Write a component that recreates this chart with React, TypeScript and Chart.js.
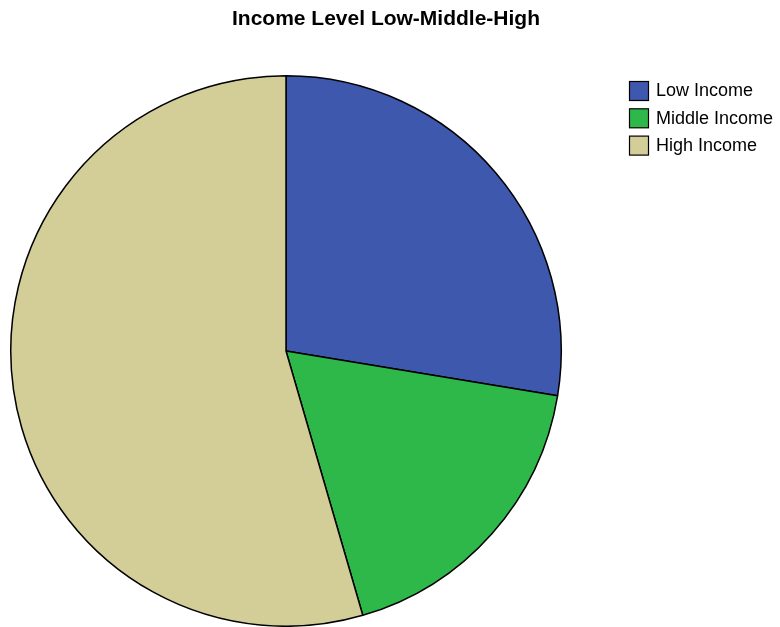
import React, { useEffect, useRef } from "react";
import { Chart, registerables } from "chart.js";

Chart.register(...registerables);

const categories = ["Low Income", "Middle Income", "High Income"];
const values = [27.6, 17.9, 54.5];
const colors = ["#3e58ad", "#2fb84a", "#d3cd98"];
const chartTitle = "Income Level Low-Middle-High";

const legendPlugin = {
  id: "customLegend",
  afterDraw(chart: any) {
    const ctx = chart.ctx;
    const labels = chart.data.labels as string[];
    const ds = chart.data.datasets[0];
    ctx.save();
    ctx.fillStyle = "#000";
    ctx.font = "bold 21px 'Liberation Sans', Arial, sans-serif";
    ctx.textBaseline = "middle";
    ctx.textAlign = "center";
    ctx.fillText(chartTitle, 386, 19.5);
    labels.forEach((lab, i) => {
      const x = 629.5;
      const y = 81.5 + i * 27.3;
      ctx.fillStyle = ds.backgroundColor[i];
      ctx.fillRect(x, y, 19, 19);
      ctx.strokeStyle = "#000";
      ctx.lineWidth = 1.2;
      ctx.strokeRect(x, y, 19, 19);
      ctx.fillStyle = "#000";
      ctx.font = "18px 'Liberation Sans', Arial, sans-serif";
      ctx.textBaseline = "middle";
      ctx.textAlign = "left";
      ctx.fillText(lab, 656, y + 10);
    });
    ctx.restore();
  },
};

export default function App() {
  const ref = useRef<HTMLCanvasElement | null>(null);
  useEffect(() => {
    if (!ref.current) return;
    const chart = new Chart(ref.current, {
      type: "pie",
      data: {
        labels: categories,
        datasets: [
          {
            data: values,
            backgroundColor: colors,
            borderColor: "#000",
            borderWidth: 1.5,
          },
        ],
      },
      options: {
        responsive: false,
        animation: false,
        layout: { padding: { left: 0, right: 208, top: 75, bottom: 0 } },
        plugins: {
          legend: { display: false },
          tooltip: { enabled: false },
          title: { display: false },
        },
      },
      plugins: [legendPlugin],
    });
    return () => chart.destroy();
  }, []);
  return (
    <div style={{ position: "absolute", left: 0, top: 0, width: 780, height: 627, background: "#fff" }}>
      <canvas ref={ref} width={780} height={627} />
    </div>
  );
}
